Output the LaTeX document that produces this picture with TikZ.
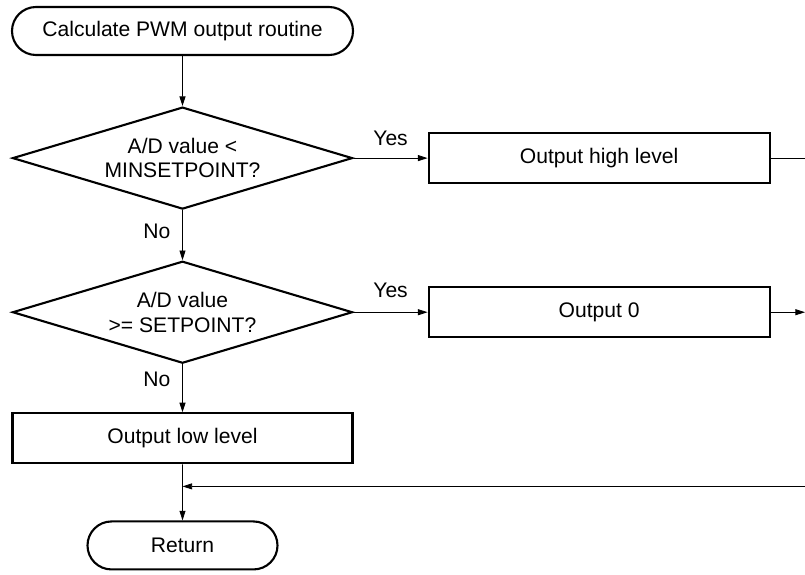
\documentclass[tikz,border=0pt]{standalone}
\usepackage{fontspec}
\setmainfont{Liberation Sans}
\usetikzlibrary{arrows.meta, positioning, shapes.geometric, shapes.misc}
\tikzset{
  term/.style={draw, rounded rectangle, line width=1.5pt, minimum height=1.2cm, inner sep=0pt},
  box/.style={draw, line width=1.5pt, minimum height=1.25cm, minimum width=8.525cm},
  dec/.style={draw, diamond, aspect=3.3, line width=1.5pt, minimum width=8.5cm,
    minimum height=2.55cm, inner sep=0pt, align=center},
  arr/.style={-{Triangle[length=2.4mm, width=1.5mm]}, line width=0.6pt},
}

\begin{document}
\begin{tikzpicture}[node distance=1.25cm and 1.85cm, every node/.style={font=\fontsize{15}{17.5}\selectfont}]
    \useasboundingbox (-4.5625,0.775) rectangle (15.5625,-13.575);
    \coordinate (rim) at (15.5625,0);
    \node[term, minimum width=8.525cm] (start) at (0,0) {Calculate PWM output routine};
    \node[dec, below=of start] (d1) {A/D value <\\MINSETPOINT?};
    \node[box, right=of d1] (high) {Output high level};
    \node[dec, below=of d1] (d2) {A/D value\\>= SETPOINT?};
    \node[box, right=of d2] (zero) {Output 0};
    \node[box, minimum width=8.5cm, below=1.2cm of d2] (low) {Output low level};
    \node[term, minimum width=4.75cm, below=1.4cm of low] (ret) {Return};
    \coordinate[below=0.55cm of low] (join);
    \draw[arr] (start) -- (d1);
    \draw[arr] (d1) -- node[above, yshift=5pt] {Yes} (high);
    \draw[arr] (d1) -- node[left, xshift=-5pt, yshift=3pt] {No} (d2);
    \draw[arr] (d2) -- node[above, yshift=7pt] {Yes} (zero);
    \draw[arr] (d2) -- node[left, xshift=-5pt, yshift=6pt] {No} (low);
    \draw[line width=0.6pt] (high.east) -- (high.east -| rim);
    \draw[arr] (zero.east) -- (zero.east -| rim);
    \draw[arr] (low) -- (ret);
    \draw[arr] (join -| rim) -- (join);
  \end{tikzpicture}
\end{document}
